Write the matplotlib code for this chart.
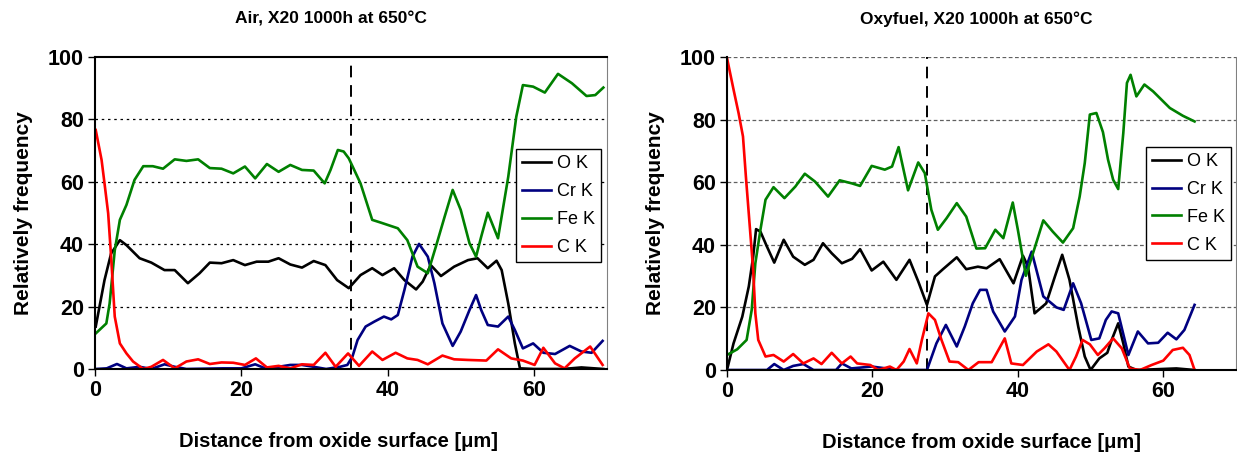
import numpy as np
import matplotlib
matplotlib.use("Agg")
import matplotlib.pyplot as plt

plt.rcParams['font.family'] = ['Liberation Sans', 'DejaVu Sans']

# ---- Air, X20 1000h at 650C ----
air_o_x = [0.1, 1.3, 2.2, 3.4, 4.3, 6.1, 7.7, 9.5, 10.9, 12.7, 14.3, 15.7, 17.3, 18.9, 20.5, 22.1,
           23.7, 25.1, 26.7, 28.3, 29.9, 31.5, 33.1, 34.7, 36.3, 37.9, 39.3, 40.9, 42.3, 43.9, 44.8,
           45.9, 47.3, 49.1, 51.0, 52.3, 53.7, 54.9, 55.6, 56.5, 57.4, 58.1, 60.0, 64.0, 66.5, 69.5]
air_o_y = [13.6, 28.5, 37.0, 41.3, 39.7, 35.5, 34.1, 31.7, 31.7, 27.5, 30.7, 34.1, 33.9, 34.9, 33.3, 34.4,
           34.4, 35.5, 33.5, 32.5, 34.6, 33.3, 28.5, 25.9, 30.1, 32.3, 30.1, 32.3, 28.5, 25.5, 28.0,
           33.3, 29.8, 32.8, 34.9, 35.5, 32.3, 34.7, 31.7, 21.0, 8.2, 0.2, 0.0, 0.0, 0.5, 0.0]

air_cr_x = [0.1, 1.6, 3.0, 4.3, 6.1, 7.7, 9.5, 10.9, 12.5, 17.5, 20.0, 21.9, 23.5, 25.1, 26.7, 28.3,
            29.9, 31.6, 33.5, 34.5, 35.2, 35.9, 37.0, 38.2, 39.5, 40.5, 41.4, 42.3, 43.4, 44.3, 45.5,
            46.4, 47.5, 48.9, 50.0, 51.2, 52.1, 52.8, 53.7, 55.1, 56.5, 57.4, 58.5, 59.9, 61.3, 62.9,
            64.9, 66.5, 67.9, 69.4]
air_cr_y = [0.0, 0.2, 1.6, 0.2, 0.7, 0.0, 1.5, 0.7, 0.0, 0.2, 0.2, 1.5, 0.0, 0.7, 1.3, 1.3,
            0.7, 0.0, 0.7, 1.3, 4.0, 9.3, 13.6, 15.2, 16.8, 15.9, 17.3, 25.3, 36.0, 40.1, 36.0,
            27.5, 14.6, 7.4, 12.0, 18.9, 23.7, 18.9, 14.1, 13.6, 16.8, 12.5, 6.6, 8.2, 5.2, 4.8,
            7.4, 5.6, 5.2, 9.0]

air_fe_x = [0.1, 1.55, 2.0, 2.7, 3.4, 4.3, 5.4, 6.6, 7.9, 9.3, 10.9, 12.5, 14.1, 15.7, 17.3, 18.9,
            20.5, 21.9, 23.5, 25.1, 26.7, 28.3, 29.9, 31.4, 32.2, 33.2, 34.0, 34.7, 36.3, 37.9, 39.1,
            41.4, 42.7, 44.1, 45.5, 46.6, 47.8, 48.9, 50.0, 51.2, 52.1, 52.8, 53.7, 55.1, 56.5, 57.6,
            58.5, 59.9, 61.5, 63.3, 65.2, 67.2, 68.4, 69.5]
air_fe_y = [11.4, 14.6, 21.0, 38.0, 47.8, 52.6, 60.6, 65.0, 65.0, 64.2, 67.2, 66.7, 67.2, 64.4, 64.2, 62.7,
            64.9, 61.1, 65.7, 63.2, 65.4, 63.8, 63.6, 59.5, 63.8, 70.2, 69.7, 67.5, 59.5, 47.8, 46.9,
            45.1, 41.3, 32.8, 30.7, 39.2, 48.8, 57.4, 51.0, 40.3, 36.0, 42.4, 50.1, 41.9, 61.6, 80.9,
            91.0, 90.5, 88.6, 94.6, 91.6, 87.5, 87.8, 90.2]

air_c_x = [0.1, 0.9, 1.3, 1.8, 2.2, 2.7, 3.4, 4.3, 5.2, 6.6, 7.7, 9.3, 10.9, 12.5, 14.1, 15.7,
           17.3, 18.9, 20.5, 22.0, 23.5, 25.1, 26.7, 28.3, 29.9, 31.5, 32.9, 34.6, 36.1, 37.9, 39.3,
           41.1, 42.7, 44.1, 45.5, 47.5, 49.1, 51.0, 53.5, 55.1, 56.9, 58.5, 60.1, 61.3, 62.9, 64.2,
           65.6, 67.7, 69.4]
air_c_y = [76.6, 67.0, 59.5, 49.9, 36.0, 16.8, 8.2, 5.0, 2.4, 0.0, 0.7, 2.9, 0.2, 2.4, 3.1, 1.6,
           2.1, 2.0, 1.3, 3.4, 0.5, 1.0, 0.2, 1.5, 1.3, 5.2, 0.7, 5.0, 1.0, 5.6, 2.9,
           5.2, 3.4, 2.9, 1.5, 4.3, 3.1, 2.9, 2.7, 6.3, 3.4, 2.7, 1.3, 6.8, 1.8, 0.2,
           3.4, 7.2, 1.3]

# ---- Oxyfuel, X20 1000h at 650C ----
oxy_o_x = [0.0, 0.9, 2.1, 3.0, 3.6, 4.0, 4.6, 5.5, 6.5, 7.8, 9.1, 10.7, 11.9, 13.2, 14.4, 15.8,
           17.2, 18.3, 19.9, 21.5, 23.3, 25.1, 26.3, 27.5, 28.6, 29.7, 31.6, 32.9, 34.5, 35.7, 37.5,
           39.4, 40.7, 41.4, 42.3, 43.9, 45.1, 46.1, 47.1, 48.3, 49.2, 50.0, 51.2, 52.3, 52.9, 53.8,
           54.5, 55.2, 56.3, 61.8, 64.3]
oxy_o_y = [0.0, 8.5, 17.0, 26.7, 36.2, 45.0, 44.2, 39.4, 34.3, 41.6, 36.2, 33.6, 35.2, 40.5, 37.3, 34.1,
           35.5, 38.6, 31.8, 34.6, 28.8, 35.2, 28.3, 20.8, 29.9, 32.2, 36.0, 32.2, 33.0, 32.5, 35.4,
           27.7, 36.5, 33.0, 18.1, 21.3, 29.9, 36.8, 28.8, 13.9, 4.3, 0.0, 3.7, 5.5, 9.6, 14.9,
           8.5, 1.1, 0.0, 0.5, 0.0]

oxy_cr_x = [0.0, 3.0, 5.5, 6.5, 7.8, 9.1, 10.5, 11.9, 15.0, 15.8, 17.1, 19.9, 21.9, 23.5, 27.5, 28.8,
            30.1, 31.6, 32.7, 33.8, 34.8, 35.7, 36.6, 38.2, 39.6, 40.5, 41.9, 43.5, 45.3, 46.3, 47.6,
            48.7, 50.1, 51.2, 52.1, 52.9, 53.8, 55.2, 56.5, 57.9, 59.3, 60.6, 61.8, 62.9, 64.3]
oxy_cr_y = [0.0, 0.0, 0.0, 1.9, 0.0, 1.3, 1.9, 0.0, 0.0, 2.1, 0.5, 1.1, 0.5, 0.0, 0.0, 8.5,
            14.4, 7.5, 13.9, 21.3, 25.6, 25.6, 18.7, 12.3, 17.1, 28.8, 37.8, 23.5, 20.0, 19.2, 27.7,
            21.3, 9.6, 10.1, 16.0, 18.7, 18.1, 4.8, 12.3, 8.5, 8.7, 11.9, 9.8, 12.8, 20.8]

oxy_fe_x = [0.0, 1.4, 2.7, 3.4, 3.9, 4.6, 5.3, 6.4, 7.9, 9.4, 10.7, 12.1, 13.9, 15.5, 17.2, 18.3,
            19.9, 21.7, 22.7, 23.6, 24.9, 26.3, 27.2, 28.1, 29.0, 30.2, 31.6, 32.9, 34.3, 35.5, 36.9,
            38.0, 39.3, 40.0, 41.1, 42.3, 43.5, 44.8, 46.2, 47.6, 48.5, 49.2, 49.9, 50.8, 51.7, 52.4,
            53.1, 53.8, 54.5, 55.0, 55.5, 56.3, 57.4, 58.6, 60.9, 62.7, 64.3]
oxy_fe_y = [4.8, 6.6, 9.6, 19.2, 34.1, 44.8, 54.4, 58.4, 54.9, 58.6, 62.7, 60.2, 55.4, 60.6, 59.6, 58.8,
            65.2, 64.0, 65.0, 71.2, 57.4, 66.3, 62.9, 51.2, 44.8, 48.5, 53.3, 49.0, 38.8, 38.9, 44.8,
            42.1, 53.5, 44.8, 30.1, 38.9, 47.8, 44.2, 40.7, 45.3, 55.4, 66.1, 81.6, 82.1, 76.0, 67.2,
            60.8, 57.8, 75.7, 91.7, 94.3, 87.4, 91.2, 89.0, 83.7, 81.2, 79.4]

oxy_c_x = [0.0, 0.9, 1.6, 2.2, 2.6, 3.1, 3.6, 3.9, 4.3, 5.3, 6.4, 7.8, 9.1, 10.5, 11.9, 13.0,
           14.4, 15.8, 17.0, 17.9, 19.7, 20.8, 22.4, 23.3, 24.3, 25.1, 26.1, 26.8, 27.7, 28.6, 29.5,
           30.6, 31.8, 33.2, 34.6, 36.4, 38.2, 39.1, 40.7, 42.6, 44.2, 45.3, 47.1, 48.0, 48.9, 49.9,
           51.0, 51.9, 53.1, 54.3, 55.4, 56.8, 58.4, 60.0, 61.3, 62.7, 63.6, 64.3]
oxy_c_y = [99.7, 89.6, 82.0, 74.6, 61.8, 46.9, 32.0, 18.1, 9.6, 4.3, 4.8, 2.7, 5.1, 2.1, 3.7, 1.9,
           5.5, 2.1, 4.3, 2.1, 1.6, 0.0, 1.1, 0.0, 2.7, 6.7, 2.1, 9.6, 18.1, 16.0, 9.6,
           2.7, 2.5, 0.0, 2.5, 2.5, 10.1, 2.1, 1.6, 5.9, 8.2, 5.9, 0.0, 4.3, 9.6, 8.2,
           4.8, 6.9, 10.1, 6.9, 0.5, 0.0, 1.6, 3.0, 6.4, 7.1, 4.8, 0.0]

labels = ["O K", "Cr K", "Fe K", "C K"]
colors = ["black", "#000080", "#008000", "#ff0000"]

panels = [
    dict(title="Air, X20 1000h at 650°C", rect=[0.0768, 0.1961, 0.4139, 0.6797], marker=35.0,
         series=[(air_o_x, air_o_y), (air_cr_x, air_cr_y), (air_fe_x, air_fe_y), (air_c_x, air_c_y)],
         legend_anchor=(0.988, 0.705), grid_color="black", grid_ls=(0, (2, 3)),
         title_x=0.46, xlabel_x=0.475),
    dict(title="Oxyfuel, X20 1000h at 650°C", rect=[0.5877, 0.1939, 0.4115, 0.682], marker=27.5,
         series=[(oxy_o_x, oxy_o_y), (oxy_cr_x, oxy_cr_y), (oxy_fe_x, oxy_fe_y), (oxy_c_x, oxy_c_y)],
         legend_anchor=(0.990, 0.713), grid_color="#606060", grid_ls=(0, (3, 2)),
         title_x=0.49, xlabel_x=0.5),
]

fig = plt.figure(figsize=(12.37, 4.59), dpi=100)

for i, p in enumerate(panels):
    ax = fig.add_axes(p["rect"])
    for (xs, ys), lab, col in zip(p["series"], labels, colors):
        ax.plot(xs, ys, color=col, lw=1.9, label=lab, solid_joinstyle="round")
    ax.axvline(p["marker"], color="black", lw=1.4, ls=(0, (6, 4)), zorder=1)
    ax.set_xlim(0, 70)
    ax.set_ylim(0, 100)
    ax.set_xticks([0, 20, 40, 60])
    ax.set_yticks([0, 20, 40, 60, 80, 100])
    grid_levels = [20, 40, 60, 80] if i == 0 else [20, 40, 60, 80, 100]
    for g in grid_levels:
        ax.axhline(g, color=p["grid_color"], lw=0.9, ls=p["grid_ls"], zorder=0)
    ax.tick_params(labelsize=15.5, width=1, length=5, direction="out", pad=3)
    for lab in ax.get_xticklabels() + ax.get_yticklabels():
        lab.set_fontweight("bold")
    ax.spines["left"].set_linewidth(1.5)
    ax.spines["bottom"].set_linewidth(1.5)
    if i == 0:
        ax.spines["top"].set_linewidth(1.5)
        ax.spines["right"].set_color("#808080")
    else:
        ax.spines["top"].set_visible(False)
        ax.spines["right"].set_color("#808080")
    ax.set_title(p["title"], fontsize=12.5, fontweight="bold", pad=24, x=p["title_x"])
    ax.set_ylabel("Relatively frequency", fontsize=15, fontweight="bold", labelpad=11)
    ax.set_xlabel("Distance from oxide surface [μm]", fontsize=14.5, fontweight="bold",
                  labelpad=22)
    ax.xaxis.label.set_x(p["xlabel_x"])
    leg = ax.legend(loc="upper right", bbox_to_anchor=p["legend_anchor"], fontsize=13,
                    frameon=True, fancybox=False, framealpha=1, edgecolor="black",
                    handlelength=1.6, handletextpad=0.3, borderpad=0.35, labelspacing=0.6,
                    borderaxespad=0)
    leg.get_frame().set_linewidth(1.0)

fig.savefig("out.png", dpi=100)
